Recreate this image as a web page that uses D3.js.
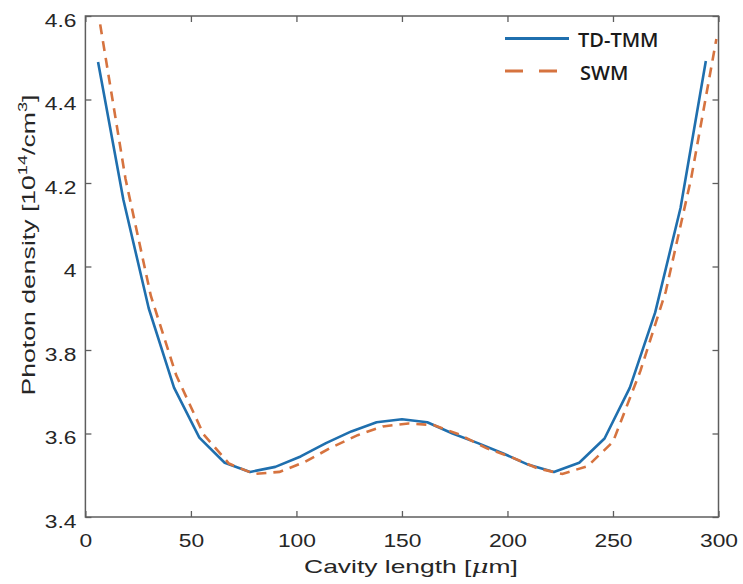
<!DOCTYPE html>
<html>
<head>
<meta charset="utf-8">
<script src="https://cdn.jsdelivr.net/npm/d3@7"></script>
<style>
  html, body { margin: 0; padding: 0; background: #ffffff; }
  svg { display: block; }
</style>
</head>
<body>
<svg id="chart" width="743" height="584"></svg>
<script>
// ---- data ----
const tdtmmX = [6, 18, 30, 42, 54, 66, 78, 90, 102, 114, 126, 138, 150, 162, 174, 186, 198, 210, 222, 234, 246, 258, 270, 282, 294];
const tdtmmY = [4.49, 4.16, 3.90, 3.71, 3.59, 3.53, 3.508, 3.52, 3.545, 3.577, 3.605, 3.627, 3.634, 3.627, 3.60, 3.577, 3.552, 3.525, 3.508, 3.53, 3.588, 3.71, 3.89, 4.14, 4.492];
const swmX = [7, 19, 31, 43, 56, 68, 80, 92, 104, 116, 129, 141, 153, 165, 177, 190, 202, 214, 226, 238, 250, 263, 275, 287, 299];
const swmY = [4.58, 4.21, 3.93, 3.74, 3.598, 3.528, 3.503, 3.508, 3.532, 3.565, 3.596, 3.617, 3.624, 3.62, 3.598, 3.565, 3.543, 3.517, 3.503, 3.522, 3.58, 3.75, 3.94, 4.21, 4.545];
const xTicks = [0, 50, 100, 150, 200, 250, 300];
const yTicks = [3.4, 3.6, 3.8, 4.0, 4.2, 4.4, 4.6];
const yTickLabels = ["3.4", "3.6", "3.8", "4", "4.2", "4.4", "4.6"];
const seriesNames = ["TD-TMM", "SWM"];

// ---- layout ----
const svg = d3.select("#chart");
const L = 85.4, R = 718.5, T = 16, B = 517;
const x = d3.scaleLinear().domain([0, 300]).range([L, R]);
const y = d3.scaleLinear().domain([3.4, 4.6]).range([B, T]);

const axisColor = "#5e5e5e";
const textColor = "#262626";
const blue = "#1f6fae";
const orange = "#d6733f";
const tickFont = "'Liberation Sans', Arial, sans-serif";

// box
svg.append("rect")
  .attr("x", L).attr("y", T).attr("width", R - L).attr("height", B - T)
  .attr("fill", "none").attr("stroke", axisColor).attr("stroke-width", 1.5);

function styleAxis(g) {
  g.select(".domain").remove();
  g.selectAll(".tick line").attr("stroke", axisColor).attr("stroke-width", 1.3);
}

// bottom axis
const gx = svg.append("g").attr("transform", `translate(0,${B})`)
  .call(d3.axisBottom(x).tickValues(xTicks).tickSize(-6).tickFormat(d3.format("d")));
styleAxis(gx);
gx.selectAll(".tick text")
  .attr("y", null).attr("dy", null)
  .attr("transform", "translate(0,30) scale(1.2,1)")
  .attr("fill", textColor).attr("font-family", tickFont).attr("font-size", 19);

// top axis
const gxt = svg.append("g").attr("transform", `translate(0,${T})`)
  .call(d3.axisTop(x).tickValues(xTicks).tickSize(-6).tickFormat(""));
styleAxis(gxt);

// left axis
const gy = svg.append("g").attr("transform", `translate(${L},0)`)
  .call(d3.axisLeft(y).tickValues(yTicks).tickSize(-6).tickFormat((d, i) => yTickLabels[i]));
styleAxis(gy);
gy.selectAll(".tick text")
  .attr("x", null).attr("dy", null)
  .attr("dominant-baseline", "central")
  .attr("transform", "translate(-9,3.5) scale(1.2,1)")
  .attr("fill", textColor).attr("font-family", tickFont).attr("font-size", 19);

// right axis
const gyr = svg.append("g").attr("transform", `translate(${R},0)`)
  .call(d3.axisRight(y).tickValues(yTicks).tickSize(-6).tickFormat(""));
styleAxis(gyr);

// axis labels
const xl = svg.append("text")
  .attr("transform", `translate(411,573) scale(1.39,1)`)
  .attr("text-anchor", "middle")
  .attr("fill", textColor).attr("font-family", tickFont).attr("font-size", 19);
xl.append("tspan").text("Cavity length [");
xl.append("tspan").attr("font-style", "italic").attr("font-family", "'DejaVu Serif', serif").text("\u03bc");
xl.append("tspan").text("m]");

const yl = svg.append("text")
  .attr("transform", `translate(35,245) rotate(-90) scale(1.4,1)`)
  .attr("text-anchor", "middle")
  .attr("fill", textColor).attr("font-family", tickFont).attr("font-size", 19);
yl.append("tspan").text("Photon density [10");
yl.append("tspan").attr("font-size", 13).attr("dy", -8).text("14");
yl.append("tspan").attr("dy", 8).text("/cm");
yl.append("tspan").attr("font-size", 13).attr("dy", -8).text("3");
yl.append("tspan").attr("dy", 8).text("]");

// lines
const line = d3.line().x(d => x(d[0])).y(d => y(d[1])).curve(d3.curveLinear);
const tdData = tdtmmX.map((v, i) => [v, tdtmmY[i]]);
const swData = swmX.map((v, i) => [v, swmY[i]]);

svg.append("path").datum(tdData)
  .attr("d", line).attr("fill", "none")
  .attr("stroke", blue).attr("stroke-width", 2.6).attr("stroke-linejoin", "round");

svg.append("path").datum(swData)
  .attr("d", line).attr("fill", "none")
  .attr("stroke", orange).attr("stroke-width", 2.6)
  .attr("stroke-dasharray", "10,7");

// legend
const legFont = "'Open Sans', 'Noto Sans', sans-serif";
const lg = svg.append("g");
lg.append("line").attr("x1", 505).attr("x2", 569).attr("y1", 38.5).attr("y2", 38.5)
  .attr("stroke", blue).attr("stroke-width", 3);
lg.append("line").attr("x1", 505).attr("x2", 569).attr("y1", 71).attr("y2", 71)
  .attr("stroke", orange).attr("stroke-width", 3).attr("stroke-dasharray", "18,16");
lg.append("text").attr("x", 578).attr("y", 47).text(seriesNames[0])
  .attr("fill", "#1a1a1a").attr("font-family", legFont).attr("font-size", 20).attr("font-weight", 600);
lg.append("text").attr("x", 580).attr("y", 80).text(seriesNames[1])
  .attr("fill", "#1a1a1a").attr("font-family", legFont).attr("font-size", 20).attr("font-weight", 600);
</script>
</body>
</html>
